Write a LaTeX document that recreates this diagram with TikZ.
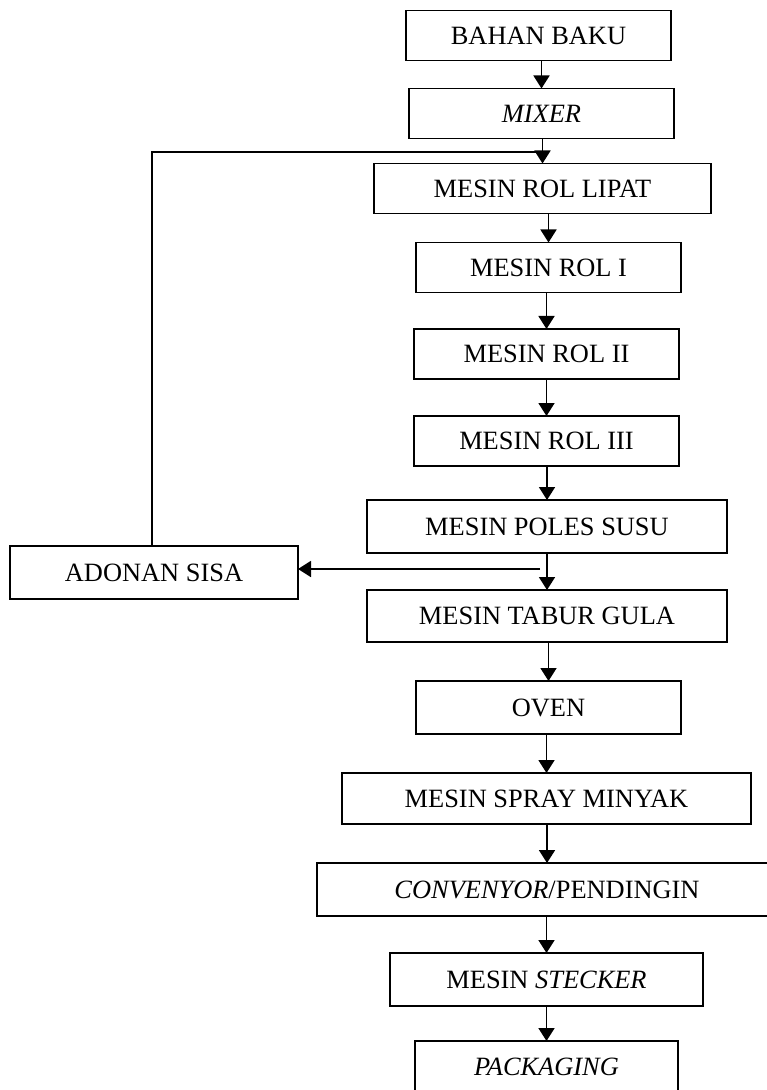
\documentclass[tikz,border=0pt]{standalone}
\usepackage{fontspec}
\setmainfont{Liberation Serif}
\usetikzlibrary{arrows.meta}
\newlength{\px}
\setlength{\px}{0.5pt}
\tikzset{
  stage/.style={draw,line width=0.9pt,inner sep=0pt,outer sep=0pt,minimum width=#1*\px,minimum height=50*\px,font=\fontsize{13.2}{15}\selectfont},
  stage/.default={265},
  arr/.style={-{Triangle[length=6.5pt,width=8pt]},line width=0.9pt},
  ln/.style={line width=0.9pt},
}
\begin{document}
\begin{tikzpicture}[x=\px,y=-\px]
 \useasboundingbox (0,0) rectangle (766,1090);
 % main line
 \node[stage] (bahan) at (538.5,35.5){BAHAN BAKU};
 \node[stage] (mixer) at (541.5,113.5){\textit{MIXER}};
 \node[stage=337] (lipat) at (542.5,188.5){MESIN ROL LIPAT};
 \node[stage] (rol1) at (548.5,267.5){MESIN ROL I};
 \node[stage] (rol2) at (546.5,354){MESIN ROL II};
 \node[stage] (rol3) at (546.5,441){MESIN ROL III};
 \node[stage=360,minimum height=53*\px] (poles) at (547,526.5){MESIN POLES SUSU};
 \node[stage=360,minimum height=52*\px] (tabur) at (547,616){MESIN TABUR GULA};
 \node[stage,minimum height=53*\px] (oven) at (548.5,707.5){OVEN};
 \node[stage=409,minimum height=51*\px] (spray) at (546.5,798.5){MESIN SPRAY MINYAK};
 \node[stage=460,minimum height=53*\px] (conv) at (547,889.5){\textit{CONVENYOR}/PENDINGIN};
 \node[stage=313,minimum height=53*\px] (stecker) at (546.5,979.5){MESIN \textit{STECKER}};
 \node[stage=263,minimum height=52*\px] (pack) at (546.5,1067){\textit{PACKAGING}};
 % side branch
 \node[stage=288,minimum height=53*\px] (sisa) at (154,572.5){ADONAN SISA};
 \foreach \a/\b in {bahan/mixer,mixer/lipat,lipat/rol1,rol1/rol2,rol2/rol3,rol3/poles,poles/tabur,tabur/oven,oven/spray,spray/conv,conv/stecker,stecker/pack}
  \draw[arr] (\b.north |- \a.south) -- (\b.north);
 \coordinate (split) at (540,569);
 \coordinate (join) at (538,152);
 \draw[arr] (split) -- (split -| sisa.east);
 \draw[ln] ([xshift=-2*\px]sisa.north) |- (join);
\end{tikzpicture}
\end{document}
